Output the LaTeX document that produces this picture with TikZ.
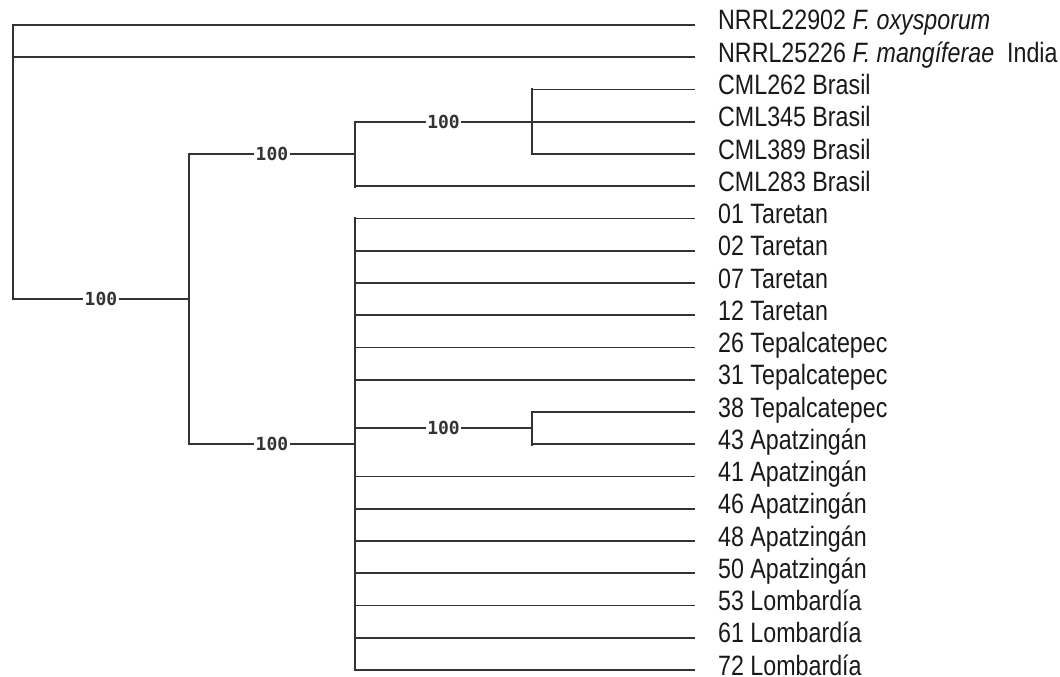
\documentclass[tikz,border=0pt]{standalone}
\usepackage{fontspec}
\setmainfont{Liberation Sans}[FakeStretch=0.83]
\newfontfamily\bootfont{DejaVu Sans Mono}
\usetikzlibrary{positioning, calc}
\definecolor{treegray}{HTML}{333333}

\begin{document}
\begin{tikzpicture}[
    x=1pt, y=-1pt,
    branch/.style={line width=1.6pt, draw=treegray},
    stem/.style={line width=2.6pt, draw=treegray, line cap=rect},
    leaf/.style={anchor=base west, inner sep=0pt, font=\fontsize{28}{28}\selectfont, text=black!90},
    boot/.style={fill=white, inner sep=1.5pt, font=\bootfont\bfseries\fontsize{18}{18}\selectfont, text=treegray}
]
\useasboundingbox (0,0) rectangle (1060,677);

% Internal nodes
\coordinate (root) at (13, 162);
\coordinate (nA) at (189, 299);
\coordinate (nB) at (355, 154);
\coordinate (nC) at (532, 122);
\coordinate (nD) at (355, 444);
\coordinate (nE) at (532, 428);

% Leaves
\foreach \lbl [count=\i from 0] in {
    {NRRL22902 \textit{F. oxysporum}},
    {NRRL25226 \textit{F. mangíferae}\ \ India},
    CML262 Brasil, CML345 Brasil, CML389 Brasil, CML283 Brasil,
    01 Taretan, 02 Taretan, 07 Taretan, 12 Taretan,
    26 Tepalcatepec, 31 Tepalcatepec, 38 Tepalcatepec,
    43 Apatzingán, 41 Apatzingán, 46 Apatzingán, 48 Apatzingán, 50 Apatzingán,
    53 Lombardía, 61 Lombardía, 72 Lombardía} {
    \coordinate (t\i) at (695, 25+32.25*\i);
    \node[leaf] (l\i) at ($(t\i)+(23,5)$) {\lbl};
}

% Terminal branches
\foreach \i/\p in {0/root, 1/root, 2/nC, 3/nC, 4/nC, 5/nB,
    6/nD, 7/nD, 8/nD, 9/nD, 10/nD, 11/nD, 12/nE, 13/nE,
    14/nD, 15/nD, 16/nD, 17/nD, 18/nD, 19/nD, 20/nD}
    \draw[branch] (\p |- t\i) -- (t\i);

% Internal branches with bootstrap values
\foreach \p/\c in {root/nA, nA/nB, nA/nD, nB/nC, nD/nE}
    \draw[branch] (\p |- \c) -- node[boot] {100} (\c);

% Vertical stems
\foreach \p/\a/\b in {root/t0/nA, nA/nB/nD, nB/nC/t5, nC/t2/t4, nD/t6/t20, nE/t12/t13}
    \draw[stem] (\p |- \a) -- (\p |- \b);

\end{tikzpicture}
\end{document}
